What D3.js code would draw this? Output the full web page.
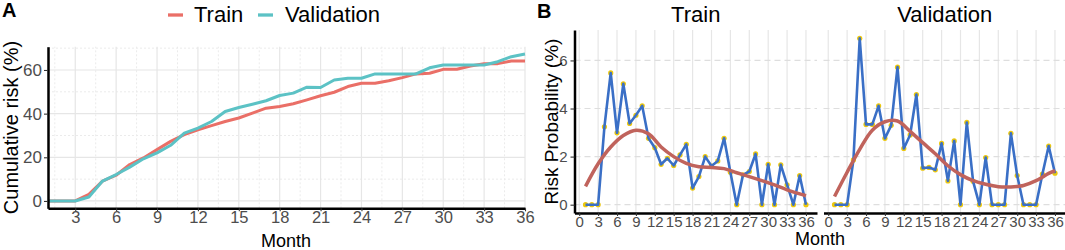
<!DOCTYPE html>
<html>
<head>
<meta charset="utf-8">
<script src="https://cdn.jsdelivr.net/npm/d3@7"></script>
<style>
  body { margin: 0; background: #fff; }
  text { font-family: "Liberation Sans", Arial, Helvetica, sans-serif; }
</style>
</head>
<body>
<div id="chart"></div>
<script>
// months shared by all series
const months = [1,2,3,4,5,6,7,8,9,10,11,12,13,14,15,16,17,18,19,20,21,22,23,24,25,26,27,28,29,30,31,32,33,34,35,36];

// panel A: cumulative risk (%)
const cumTrain = [0,0,0,3.0,9.1,11.8,16.7,19.7,23.5,27.3,30.4,32.6,34.5,36.4,38.0,40.2,42.5,43.3,44.5,46.3,48.2,49.8,52.4,53.9,53.9,55.1,56.5,58.2,58.5,60.3,60.3,61.8,62.9,62.9,64.1,64.1];
const cumValid = [0,0,0,1.8,9.1,12.1,15.5,19.3,22.0,25.5,31.1,33.4,36.4,41.0,42.8,44.3,45.9,48.3,49.4,52.1,52.0,55.4,56.2,56.2,58.2,58.2,58.2,58.2,61.0,62.3,62.3,62.3,62.3,63.8,66.1,67.3];
const cumTicksX = [3,6,9,12,15,18,21,24,27,30,33,36];
const cumTicksY = [0,20,40,60];

// panel B: monthly risk probability (%)
const probTrain = [0,0,0,3.24,5.48,2.99,5.03,3.38,3.72,4.11,2.76,2.37,1.68,1.93,1.63,2.07,2.51,0.69,1.17,2.0,1.61,1.82,2.76,1.35,0,1.24,1.38,2.11,0,1.68,0,1.66,0.83,0,1.21,0];
const probValid = [0,0,0,1.86,6.92,3.34,3.34,4.11,2.76,3.3,5.72,2.34,2.9,4.58,1.52,1.55,1.45,2.55,0.99,2.65,0,3.42,0.97,0,1.96,0,0,0,2.97,1.21,0,0,0,1.27,2.44,1.31];
// smoothed trend
const smoothMonths = [1,3,5,7,9,11,13,15,17,19,21,23,25,27,29,31,33,35,36];
const smoothTrain = [0.76,1.7,2.4,2.88,3.1,2.95,2.4,2.0,1.72,1.58,1.55,1.5,1.33,1.17,1.0,0.82,0.62,0.45,0.37];
const smoothValid = [0.34,1.35,2.3,3.1,3.45,3.48,3.05,2.58,2.12,1.62,1.25,1.0,0.85,0.75,0.74,0.8,1.0,1.3,1.42];
const probTicksX = [0,3,6,9,12,15,18,21,24,27,30,33,36];
const probTicksY = [0,2,4,6];

const seriesNames = ['Train', 'Validation'];
const colorA = {Train: '#EA6F67', Validation: '#5CC2C5'};

const svg = d3.select('#chart').append('svg')
	.attr('width', 1065)
	.attr('height', 250);

svg.append('rect').attr('width', 1065).attr('height', 250).attr('fill', '#fff');

// ggplot-like 5% padding
function padded(lo, hi) {
	const p = (hi - lo) * 0.05;
	return [lo - p, hi + p];
}

// ---------- panel A ----------
const allCum = cumTrain.concat(cumValid);
const xA = d3.scaleLinear().domain([1, 36]).range([48, 525]);
const yA = d3.scaleLinear().domain(padded(0, d3.max(allCum))).range([208.3, 46.7]);

const gA = svg.append('g');

// minor grid (dotted)
const minorX = cumTicksX.map(d => d - 1.5);
gA.selectAll('.minX').data(minorX).enter().append('line')
	.attr('x1', d => xA(d)).attr('x2', d => xA(d))
	.attr('y1', yA.range()[0]).attr('y2', yA.range()[1])
	.attr('stroke', '#EBEBEB').attr('stroke-width', 1).attr('stroke-dasharray', '2,2');
gA.selectAll('.minY').data(cumTicksY.map(d => d + 10)).enter().append('line')
	.attr('y1', d => yA(d)).attr('y2', d => yA(d))
	.attr('x1', 48).attr('x2', 525)
	.attr('stroke', '#EBEBEB').attr('stroke-width', 1).attr('stroke-dasharray', '2,2');
// major grid
gA.selectAll('.majX').data(cumTicksX).enter().append('line')
	.attr('x1', d => xA(d)).attr('x2', d => xA(d))
	.attr('y1', yA.range()[0]).attr('y2', yA.range()[1])
	.attr('stroke', '#E6E6E6').attr('stroke-width', 1.2);
gA.selectAll('.majY').data(cumTicksY).enter().append('line')
	.attr('y1', d => yA(d)).attr('y2', d => yA(d))
	.attr('x1', 48).attr('x2', 525)
	.attr('stroke', '#E6E6E6').attr('stroke-width', 1.2);

const lineA = d3.line().x((d, i) => xA(months[i])).y(d => yA(d));
[['Train', cumTrain], ['Validation', cumValid]].forEach(([name, vals]) => {
	gA.append('path')
		.attr('d', lineA(vals))
		.attr('fill', 'none')
		.attr('stroke', colorA[name])
		.attr('stroke-width', 3)
		.attr('stroke-linejoin', 'round');
});

function styleAxis(g, size) {
	g.select('.domain').attr('stroke', '#000').attr('stroke-width', 2.5);
	g.selectAll('.tick line').attr('stroke', '#333').attr('stroke-width', 1.1);
	g.selectAll('.tick text').attr('fill', '#4D4D4D').style('font-size', size + 'px')
		.style('font-family', '"Liberation Sans", Arial, sans-serif');
}

const axAx = gA.append('g').attr('transform', 'translate(0,208.3)')
	.call(d3.axisBottom(xA).tickValues(cumTicksX).tickSize(3).tickSizeOuter(0).tickPadding(0));
styleAxis(axAx, 16.5);
const axAy = gA.append('g').attr('transform', 'translate(48,0)')
	.call(d3.axisLeft(yA).tickValues(cumTicksY).tickSize(4).tickSizeOuter(0).tickPadding(2));
styleAxis(axAy, 17);

gA.append('text').attr('x', 286).attr('y', 247).attr('text-anchor', 'middle')
	.style('font-size', '18px').text('Month');
gA.append('text').attr('transform', 'translate(17.5,127.5) rotate(-90)').attr('text-anchor', 'middle')
	.style('font-size', '20px').text('Cumulative risk (%)');
svg.append('text').attr('x', 2).attr('y', 17).style('font-size', '20px').style('font-weight', 'bold').text('A');

// legend
const legend = svg.append('g');
const legendX = [{key: 168, label: 194}, {key: 258, label: 285}];
seriesNames.forEach((name, i) => {
	legend.append('line')
		.attr('x1', legendX[i].key).attr('x2', legendX[i].key + 15)
		.attr('y1', 15).attr('y2', 15)
		.attr('stroke', colorA[name]).attr('stroke-width', 3.3);
	legend.append('text').attr('x', legendX[i].label).attr('y', 22)
		.style('font-size', '22px').text(name);
});

// ---------- panel B ----------
svg.append('text').attr('x', 537).attr('y', 18).style('font-size', '20px').style('font-weight', 'bold').text('B');

const yB = d3.scaleLinear().domain(padded(0, d3.max(probTrain.concat(probValid)))).range([213, 30]);
const xDomB = padded(1, 36);
const facets = [
	{name: 'Train', vals: probTrain, smooth: smoothTrain, range: [574.5, 817]},
	{name: 'Validation', vals: probValid, smooth: smoothValid, range: [823.5, 1066]}
];

facets.forEach((f, fi) => {
	const xB = d3.scaleLinear().domain(xDomB).range(f.range);
	const g = svg.append('g');

	g.selectAll('.vgrid').data(probTicksX).enter().append('line')
		.attr('x1', d => xB(d)).attr('x2', d => xB(d))
		.attr('y1', 213).attr('y2', 30)
		.attr('stroke', '#E6E6E6').attr('stroke-width', 1.2);
	g.selectAll('.hgrid').data(probTicksY).enter().append('line')
		.attr('y1', d => yB(d)).attr('y2', d => yB(d))
		.attr('x1', f.range[0]).attr('x2', f.range[1])
		.attr('stroke', '#DEDEDE').attr('stroke-width', 1.2).attr('stroke-dasharray', '6,4');

	// points under the line
	g.selectAll('.pt').data(f.vals).enter().append('circle')
		.attr('cx', (d, i) => xB(months[i]))
		.attr('cy', d => yB(d))
		.attr('r', 2.6)
		.attr('fill', '#EDC80C');

	const lineB = d3.line().x((d, i) => xB(months[i])).y(d => yB(d));
	g.append('path').attr('d', lineB(f.vals))
		.attr('fill', 'none').attr('stroke', '#3A6FC6').attr('stroke-width', 2.6)
		.attr('stroke-linejoin', 'round');

	const smoothLine = d3.line().curve(d3.curveCatmullRom)
		.x((d, i) => xB(smoothMonths[i])).y(d => yB(d));
	g.append('path').attr('d', smoothLine(f.smooth))
		.attr('fill', 'none').attr('stroke', '#C0635C').attr('stroke-width', 3.5)
		.attr('stroke-linecap', 'butt');

	const ax = g.append('g').attr('transform', 'translate(0,213)')
		.call(d3.axisBottom(xB).tickValues(probTicksX).tickSize(3).tickSizeOuter(0).tickPadding(0));
	styleAxis(ax, 15);

	if (fi === 0) {
		const ay = g.append('g').attr('transform', 'translate(' + f.range[0] + ',0)')
			.call(d3.axisLeft(yB).tickValues(probTicksY).tickSize(4).tickSizeOuter(0).tickPadding(3));
		styleAxis(ay, 15);
	}

	g.append('text').attr('x', (f.range[0] + f.range[1]) / 2).attr('y', 22)
		.attr('text-anchor', 'middle').style('font-size', '22px').text(f.name);
});

svg.append('text').attr('x', 820).attr('y', 245).attr('text-anchor', 'middle')
	.style('font-size', '18px').text('Month');
svg.append('text').attr('transform', 'translate(558,121.5) rotate(-90)').attr('text-anchor', 'middle')
	.style('font-size', '19px').text('Risk Probability (%)');
</script>
</body>
</html>
